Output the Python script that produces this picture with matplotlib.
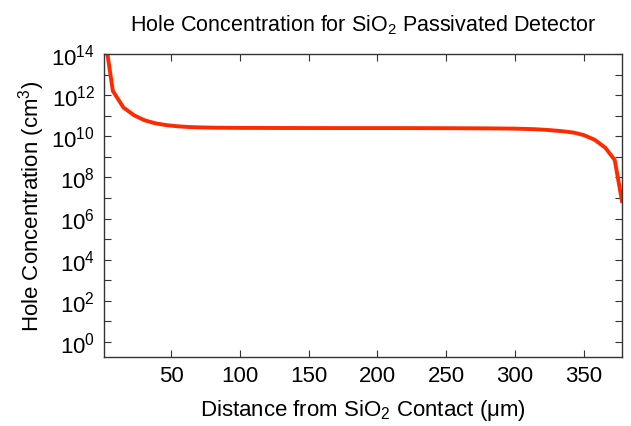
import matplotlib
matplotlib.use('Agg')
import matplotlib.pyplot as plt
from matplotlib.ticker import FixedLocator, NullFormatter

plt.rcParams['font.family'] = ['Liberation Sans', 'DejaVu Sans']
plt.rcParams['mathtext.fontset'] = 'custom'
plt.rcParams['mathtext.rm'] = 'Liberation Sans'
plt.rcParams['mathtext.it'] = 'Liberation Sans:italic'

# distance from SiO2 contact (um) and hole concentration
distance = [1, 7.6, 15.3, 23, 30.6, 38.3, 46, 53.6, 61.3, 69, 80, 100, 130,
            170, 210, 250, 280, 300, 315, 325, 335, 343, 350, 358, 365.8,
            372.7, 378]
holes = [1.6e15, 1.6e12, 2.5e11, 1.05e11, 6.0e10, 4.3e10, 3.5e10, 3.1e10,
         2.85e10, 2.72e10, 2.62e10, 2.55e10, 2.52e10, 2.5e10, 2.5e10,
         2.47e10, 2.42e10, 2.35e10, 2.2e10, 2.0e10, 1.75e10, 1.5e10,
         1.15e10, 6.8e9, 2.8e9, 7.0e8, 7.0e6]

x_ticks = [50, 100, 150, 200, 250, 300, 350]

fig = plt.figure(figsize=(6.31, 4.27), dpi=100)
ax = fig.add_axes([103.5 / 631, 1 - 357.5 / 427, 518.5 / 631, 302.5 / 427])

ax.plot(distance, holes, color='#ff2a00', lw=2.8)
ax.set_yscale('log')
ax.set_xlim(0.8, 378)
ax.set_ylim(10 ** -0.71, 1e14)

ax.xaxis.set_major_locator(FixedLocator(x_ticks))
ax.yaxis.set_major_locator(FixedLocator([10.0 ** k for k in range(0, 15, 2)]))
ax.yaxis.set_minor_locator(FixedLocator([10.0 ** k for k in range(1, 14, 2)]))
ax.yaxis.set_minor_formatter(NullFormatter())

ax.tick_params(which='both', direction='in', top=True, right=True,
               length=5, width=0.8, color='#333333', labelsize=16, pad=6)
for s in ax.spines.values():
    s.set_color('#333333')
    s.set_linewidth(1.0)

ax.set_title('Hole Concentration for SiO$_2$ Passivated Detector', fontsize=15.5, pad=17)
ax.set_xlabel('Distance from SiO$_2$ Contact (\u03bcm)', fontsize=16, labelpad=8)
ax.set_ylabel('Hole Concentration (cm$^3$)', fontsize=16, labelpad=3)

fig.savefig('out.png', dpi=100)
